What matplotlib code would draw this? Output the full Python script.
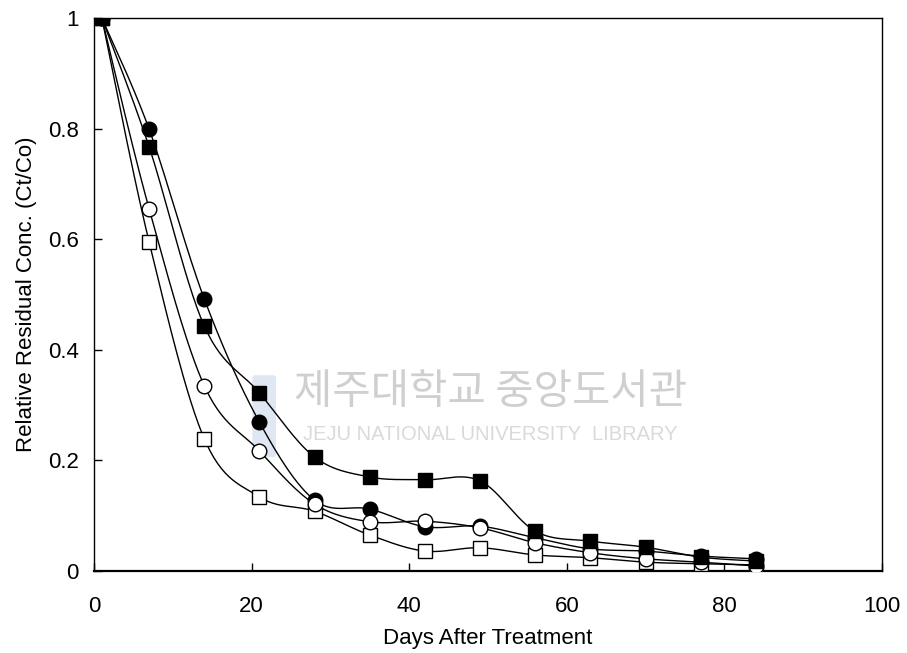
import numpy as np
import matplotlib
matplotlib.use("Agg")
import matplotlib.pyplot as plt
from matplotlib.patches import FancyBboxPatch

days = [1, 7, 14, 21, 28, 35, 42, 49, 56, 63, 70, 77, 84]
filled_square = [1.0, 0.767, 0.443, 0.322, 0.206, 0.170, 0.165, 0.163, 0.072, 0.054, 0.043, 0.025, 0.018]
filled_circle = [1.0, 0.799, 0.492, 0.269, 0.128, 0.112, 0.080, 0.081, 0.060, 0.040, 0.036, 0.027, 0.022]
open_circle = [1.0, 0.655, 0.335, 0.217, 0.121, 0.089, 0.090, 0.078, 0.051, 0.033, 0.022, 0.016, 0.009]
open_square = [1.0, 0.595, 0.239, 0.134, 0.108, 0.065, 0.036, 0.042, 0.029, 0.024, 0.016, 0.013, 0.011]

xticks = [0, 20, 40, 60, 80, 100]
yticks = [0, 0.2, 0.4, 0.6, 0.8, 1.0]
ytick_labels = ["0", "0.2", "0.4", "0.6", "0.8", "1"]

plt.rcParams['font.family'] = ['Liberation Sans', 'DejaVu Sans']


def smooth(x, y, n=30):
    """Bezier smoothing of a polyline for display (Excel-like smoothed line)."""
    p = np.column_stack([x, y]).astype(float)
    out = []
    m = len(p)
    for i in range(m - 1):
        p0 = p[i - 1] if i > 0 else p[i]
        p1 = p[i]
        p2 = p[i + 1]
        p3 = p[i + 2] if i + 2 < m else p[i + 1]
        c1 = p1 + (p2 - p0) / 6.0
        c2 = p2 - (p3 - p1) / 6.0
        t = np.linspace(0, 1, n)[:, None]
        seg = ((1 - t) ** 3) * p1 + 3 * ((1 - t) ** 2) * t * c1 + 3 * (1 - t) * t ** 2 * c2 + t ** 3 * p2
        out.append(seg if i == 0 else seg[1:])
    s = np.vstack(out)
    return s[:, 0], s[:, 1]


fig = plt.figure(figsize=(9.07, 6.53), dpi=100)
ax = fig.add_axes([0.1036, 0.1256, 0.8688, 0.8468])

# watermark
ax.add_patch(FancyBboxPatch((0.205, 0.21), 0.022, 0.14, boxstyle="round,pad=0.004",
                            transform=ax.transAxes, facecolor='#dfe7f3', edgecolor='none', zorder=0))
ax.text(0.503, 0.323, "제주대학교 중앙도서관", transform=ax.transAxes, ha='center', va='center',
        fontsize=30, color='#cfcfcf', family=['Noto Sans CJK KR'], zorder=0)
ax.text(0.503, 0.247, "JEJU NATIONAL UNIVERSITY  LIBRARY", transform=ax.transAxes, ha='center',
        va='center', fontsize=14.5, color='#dadada', zorder=0)

series = [
    (open_square, 's', 'white'),
    (filled_circle, 'o', 'black'),
    (open_circle, 'o', 'white'),
    (filled_square, 's', 'black'),
]
for i, (vals, mk, fc) in enumerate(series):
    sx, sy = smooth(days, vals)
    ax.plot(sx, sy, color='black', lw=1.0, zorder=2 + i)
for i, (vals, mk, fc) in enumerate(series):
    ax.plot(days, vals, linestyle='none', marker=mk, markersize=10 if mk == 's' else 10.5,
            markerfacecolor=fc, markeredgecolor='black', markeredgewidth=1.0, zorder=10 + i)

ax.set_xlim(0, 100)
ax.set_ylim(0, 1)
ax.set_xticks(xticks)
ax.set_yticks(yticks)
ax.set_yticklabels(ytick_labels)
ax.tick_params(direction='in', length=6, width=1, labelsize=16, top=False, right=False)
ax.tick_params(axis='x', pad=18)
ax.tick_params(axis='y', pad=11)
for s in ax.spines.values():
    s.set_linewidth(1.0)
ax.spines['bottom'].set_linewidth(1.6)
ax.set_xlabel("Days After Treatment", fontsize=16, labelpad=8)
ax.set_ylabel("Relative Residual Conc. (Ct/Co)", fontsize=16, labelpad=8)

fig.savefig("out.png", dpi=100)
